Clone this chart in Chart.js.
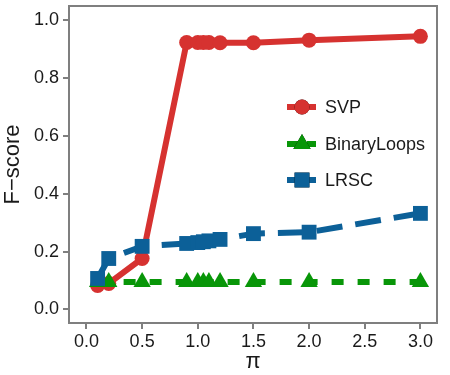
<!DOCTYPE html>
<html>
<head>
<meta charset="utf-8">
<script src="https://cdn.jsdelivr.net/npm/chart.js@4.4.1/dist/chart.umd.min.js"></script>
<style>
  html, body { margin: 0; padding: 0; background: #fff; }
  #wrap { width: 450px; height: 375px; }
</style>
</head>
<body>
<div id="wrap"><canvas id="grafica" width="450" height="375"></canvas></div>
<script>
// datos
const piValues = [0.1, 0.2, 0.5, 0.9, 1.0, 1.05, 1.1, 1.2, 1.5, 2.0, 3.0]
const svp = [0.083, 0.09, 0.176, 0.923, 0.923, 0.923, 0.923, 0.922, 0.922, 0.931, 0.944]
const binaryLoops = [0.095, 0.095, 0.095, 0.095, 0.095, 0.095, 0.095, 0.095, 0.095, 0.095, 0.095]
const lrsc = [0.107, 0.176, 0.218, 0.228, 0.231, 0.234, 0.237, 0.242, 0.262, 0.267, 0.332]
const xTicks = [0.0, 0.5, 1.0, 1.5, 2.0, 2.5, 3.0]
const yTicks = [0.0, 0.2, 0.4, 0.6, 0.8, 1.0]

const rojo = 'rgb(214,50,48)'
const verde = 'rgb(8,150,8)'
const azul = 'rgb(12,96,152)'
const gris = '#7f7f7f'
const fuente = "'Liberation Sans', Arial, sans-serif"

const puntos = (ys) => piValues.map((x, i) => ({ x: x, y: ys[i] }))

// forzar el borde superior del panel
const panelTop = {
    id: 'panelTop',
    afterLayout(chart) {
        const y = chart.scales.y
        chart.chartArea.top = 6
        chart.chartArea.height = chart.chartArea.bottom - 6
        y.top = 6
        y.height = y.bottom - y.top
        y.configure()
    }
}

// borde gris del panel
const marco = {
    id: 'marco',
    afterDraw(chart) {
        const a = chart.chartArea
        const ctx = chart.ctx
        ctx.save()
        ctx.strokeStyle = gris
        ctx.lineWidth = 2
        ctx.strokeRect(a.left, a.top, a.right - a.left, a.bottom - a.top)
        ctx.restore()
    }
}

// leyenda dentro del panel
const leyenda = {
    id: 'leyenda',
    afterDatasetsDraw(chart) {
        const ctx = chart.ctx
        const filas = [107, 144, 180]
        chart.data.datasets.forEach((ds, i) => {
            const y = filas[i]
            ctx.save()
            ctx.strokeStyle = ds.borderColor
            ctx.lineWidth = ds.borderWidth
            ctx.setLineDash(ds.legendDash || [])
            ctx.beginPath()
            ctx.moveTo(287, y)
            ctx.lineTo(316, y)
            ctx.stroke()
            ctx.setLineDash([])
            Chart.helpers.drawPoint(ctx, {
                pointStyle: ds.pointStyle,
                radius: ds.pointRadius,
                borderWidth: 0
            }, 302, y)
            ctx.fillStyle = ds.pointBackgroundColor
            ctx.fill()
            ctx.fillStyle = '#1a1a1a'
            ctx.font = '18px ' + fuente
            ctx.textBaseline = 'middle'
            ctx.fillText(ds.label, 325, y + 1)
            ctx.restore()
        })
    }
}

new Chart(document.getElementById('grafica'), {
    type: 'line',
    data: {
        datasets: [
            {
                label: 'SVP',
                data: puntos(svp),
                borderColor: rojo,
                backgroundColor: rojo,
                pointBackgroundColor: rojo,
                borderWidth: 6,
                pointStyle: 'circle',
                pointRadius: 7.5,
                pointBorderWidth: 0,
                order: 3
            },
            {
                label: 'BinaryLoops',
                data: puntos(binaryLoops),
                borderColor: verde,
                backgroundColor: verde,
                pointBackgroundColor: verde,
                borderWidth: 6,
                borderDash: [12, 14],
                legendDash: [12, 8],
                pointStyle: 'triangle',
                pointRadius: 10,
                pointBorderWidth: 0,
                order: 2
            },
            {
                label: 'LRSC',
                data: puntos(lrsc),
                borderColor: azul,
                backgroundColor: azul,
                pointBackgroundColor: azul,
                borderWidth: 6,
                borderDash: [26, 13],
                legendDash: [],
                pointStyle: 'rect',
                pointRadius: 10.5,
                pointBorderWidth: 0,
                order: 1
            }
        ]
    },
    options: {
        responsive: false,
        animation: false,
        layout: { padding: { top: 6, right: 13, left: 0, bottom: 0 } },
        plugins: {
            legend: { display: false },
            tooltip: { enabled: false }
        },
        elements: { line: { tension: 0, borderCapStyle: 'butt' } },
        scales: {
            x: {
                type: 'linear',
                min: -0.157,
                max: 3.149,
                afterBuildTicks: (s) => { s.ticks = xTicks.map(v => ({ value: v })) },
                afterFit: (s) => { s.height = 52 },
                grid: { drawOnChartArea: false, drawTicks: true, tickLength: 6, color: gris, lineWidth: 2 },
                border: { display: false },
                ticks: {
                    autoSkip: false,
                    maxRotation: 0,
                    padding: 2,
                    color: '#1a1a1a',
                    font: { size: 18, family: fuente },
                    callback: (v) => v.toFixed(1)
                },
                title: {
                    display: true,
                    text: 'π',
                    color: '#1a1a1a',
                    font: { size: 22, family: fuente },
                    padding: { top: 2, bottom: 0 }
                }
            },
            y: {
                type: 'linear',
                min: -0.047,
                max: 1.049,
                afterBuildTicks: (s) => { s.ticks = yTicks.map(v => ({ value: v })) },
                afterFit: (s) => { s.width = 69 },
                grid: { drawOnChartArea: false, drawTicks: true, tickLength: 6, color: gris, lineWidth: 2 },
                border: { display: false },
                ticks: {
                    autoSkip: false,
                    padding: 4,
                    color: '#1a1a1a',
                    font: { size: 18, family: fuente },
                    callback: (v) => v.toFixed(1)
                },
                title: {
                    display: true,
                    text: 'F−score',
                    color: '#1a1a1a',
                    font: { size: 22, family: fuente },
                    padding: { top: 0, bottom: 0 }
                }
            }
        }
    },
    plugins: [panelTop, marco, leyenda]
})
</script>
</body>
</html>
